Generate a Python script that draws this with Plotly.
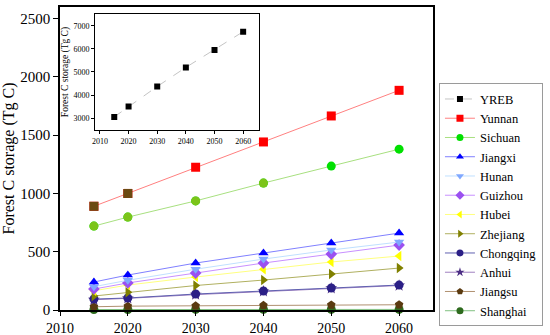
import plotly.graph_objects as go

years = [2015, 2020, 2030, 2040, 2050, 2060]
yreb = [3050, 3500, 4370, 5200, 5960, 6750]
yunnan = [890, 1000, 1225, 1442, 1665, 1885]
sichuan = [720, 797, 936, 1089, 1235, 1380]
jiangxi = [240, 300, 403, 490, 575, 660]
hunan = [200, 255, 350, 437, 515, 583]
guizhou = [180, 232, 317, 403, 480, 557]
hubei = [165, 214, 283, 350, 412, 463]
zhejiang = [120, 152, 210, 257, 309, 360]
chongqing = [94, 103, 137, 163, 189, 214]
anhui = [88, 100, 132, 160, 186, 210]
jiangsu = [28, 33, 36, 40, 43, 45]
shanghai = [4, 4, 5, 5, 5, 5]
main_ticks_x = [2010, 2020, 2030, 2040, 2050, 2060]
main_ticks_y = [0, 500, 1000, 1500, 2000, 2500]
inset_ticks_y = [3000, 4000, 5000, 6000, 7000]

series = [
    ("Yunnan", yunnan, "square", "#FF0000", "#FF8080"),
    ("Sichuan", sichuan, "circle", "#00E000", "#A8E080"),
    ("Jiangxi", jiangxi, "triangle-up", "#0000FF", "#8080FF"),
    ("Hunan", hunan, "triangle-down", "#80A8FF", "#C0E0FF"),
    ("Guizhou", guizhou, "diamond", "#9B50F0", "#C890FF"),
    ("Hubei", hubei, "triangle-left", "#FFFF00", "#FFFF80"),
    ("Zhejiang", zhejiang, "triangle-right", "#808000", "#B0B060"),
    ("Chongqing", chongqing, "circle", "#2B1F86", "#6060B0"),
    ("Anhui", anhui, "star", "#4B2E83", "#A080C0"),
    ("Jiangsu", jiangsu, "pentagon", "#5A3A10", "#B09070"),
    ("Shanghai", shanghai, "circle", "#2E6B1E", "#80C080"),
]
names = [s[0] for s in series]

font = "Liberation Serif, Times New Roman, serif"
fig = go.Figure()

# YREB (inset data, also legend entry)
fig.add_trace(go.Scatter(
    x=years, y=yreb, name="YREB", mode="lines+markers", legendrank=1,
    line=dict(color="#C4C4C4", width=1, dash="dash"),
    marker=dict(symbol="square", size=6, color="black"),
    xaxis="x2", yaxis="y2"))

for name, vals, sym, mc, lc in reversed(series):
    rank = names.index(name) + 2
    # legend entry + line (small markers, hidden under the big ones)
    fig.add_trace(go.Scatter(
        x=years, y=vals, name=name, mode="lines+markers", legendrank=rank,
        line=dict(color=lc, width=1),
        marker=dict(symbol=sym, size=7, color=mc),
        cliponaxis=False))
    # full-size markers
    fig.add_trace(go.Scatter(
        x=years, y=vals, mode="markers", showlegend=False,
        marker=dict(symbol=sym, size=9, color=mc), cliponaxis=False))

# odd coloured early markers seen in the original
fig.add_trace(go.Scatter(x=years[:4], y=sichuan[:4], mode="markers", showlegend=False,
                         marker=dict(symbol="circle", size=9, color="#7CC41A")))
fig.add_trace(go.Scatter(x=years[:2], y=yunnan[:2], mode="markers", showlegend=False,
                         marker=dict(symbol="square", size=9, color="#6B4A12")))

fig.update_layout(
    width=550, height=335,
    margin=dict(l=60, r=117, t=7, b=25, autoexpand=False),
    paper_bgcolor="white", plot_bgcolor="white",
    font=dict(family=font, size=14, color="black"),
    showlegend=True,
    legend=dict(x=1.016, y=0.748, xanchor="left", yanchor="top",
                bordercolor="#9A9A9A", borderwidth=1, bgcolor="white",
                font=dict(size=12.5, family=font, color="black"), tracegroupgap=0,
                itemwidth=30),
    xaxis=dict(range=[2010, 2065], tickvals=main_ticks_x,
               showgrid=False, zeroline=False, showline=True, linecolor="black",
               linewidth=1.5, mirror=True, ticks="outside", ticklen=4,
               tickcolor="black", tickfont=dict(size=14, color="black")),
    yaxis=dict(range=[0, 2600], tickvals=main_ticks_y,
               showgrid=False, zeroline=False, showline=True, linecolor="black",
               linewidth=1.5, mirror=True, ticks="outside", ticklen=5,
               tickcolor="black", tickfont=dict(size=15, color="black"),
               title=dict(text="Forest C storage (Tg C)", font=dict(size=16, color="black"), standoff=6)),
    xaxis2=dict(domain=[0.094, 0.534], anchor="y2", range=[2008.3, 2065.6],
                tickvals=main_ticks_x,
                showgrid=False, zeroline=False, showline=True, linecolor="black",
                linewidth=1, mirror=True, ticks="outside", ticklen=3,
                tickcolor="black", tickfont=dict(size=8, color="black")),
    yaxis2=dict(domain=[0.594, 0.977], anchor="x2", range=[2480, 7520],
                tickvals=inset_ticks_y,
                showgrid=False, zeroline=False, showline=True, linecolor="black",
                linewidth=1, mirror=True, ticks="outside", ticklen=3,
                tickcolor="black", tickfont=dict(size=8, color="black"),
                title=dict(text="Forest C storage (Tg C)", font=dict(size=9.5, color="black"), standoff=3)),
)

fig.write_html("out.html", config={"displayModeBar": False},
               post_script="document.body.style.margin='0';document.body.style.overflow='hidden';")
